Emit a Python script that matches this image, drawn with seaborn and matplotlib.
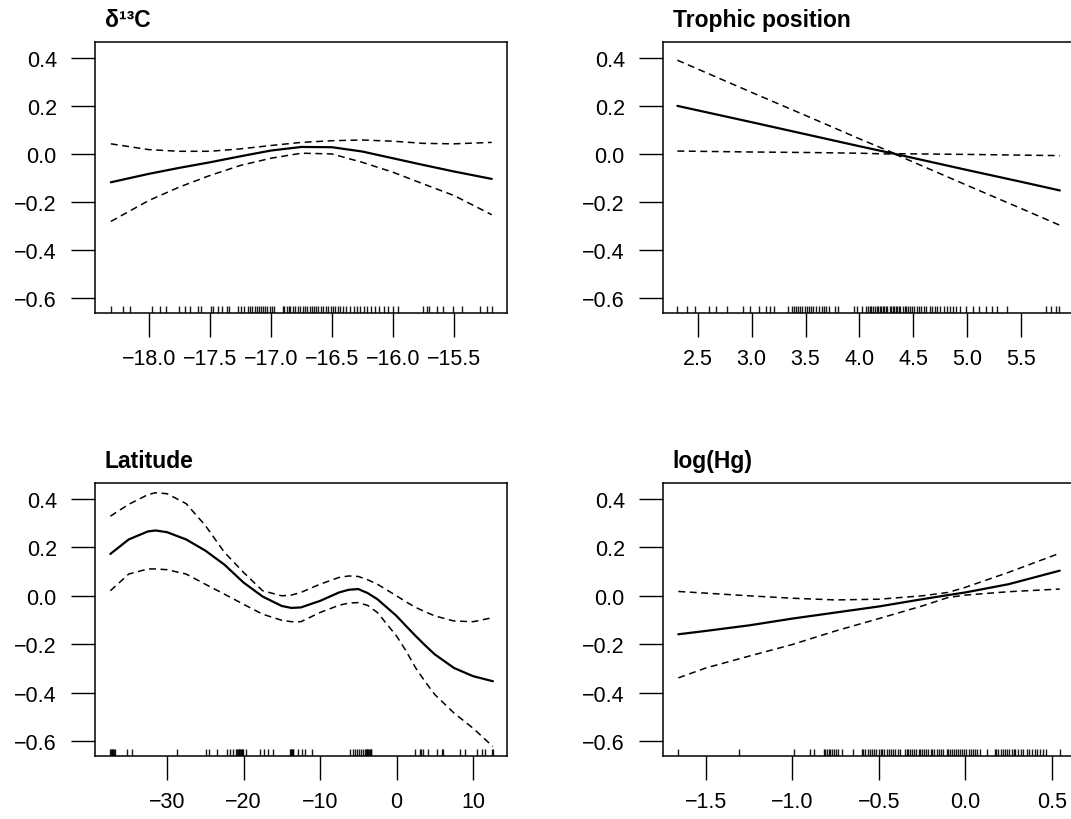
import matplotlib
matplotlib.use("Agg")
import matplotlib.pyplot as plt
import matplotlib.ticker as mticker
import seaborn as sns

# ---- delta 13C panel ----
d13c_x = [-18.31, -18.0, -17.75, -17.5, -17.25, -17.0, -16.75, -16.5, -16.25, -16.0, -15.75, -15.5, -15.19]
d13c_fit = [-0.118, -0.083, -0.058, -0.035, -0.010, 0.014, 0.029, 0.028, 0.010, -0.018, -0.046, -0.073, -0.104]
d13c_hi = [0.042, 0.018, 0.011, 0.011, 0.021, 0.035, 0.048, 0.055, 0.058, 0.053, 0.044, 0.042, 0.048]
d13c_lo = [-0.281, -0.194, -0.138, -0.090, -0.048, -0.018, 0.003, 0.000, -0.035, -0.076, -0.125, -0.173, -0.253]
d13c_rug = [-18.31, -18.21, -18.15, -17.97, -17.91, -17.86, -17.75, -17.70, -17.66, -17.60, -17.57,
            -17.49, -17.47, -17.43, -17.40, -17.36, -17.34,
            -17.27, -17.24, -17.22, -17.19, -17.17, -17.15, -17.13, -17.11, -17.10, -17.08, -17.06,
            -17.05, -17.03, -17.01, -16.99, -16.97, -16.90, -16.89, -16.87, -16.85, -16.84, -16.82,
            -16.80, -16.78, -16.76, -16.74, -16.72, -16.70, -16.68, -16.66, -16.65, -16.63, -16.61,
            -16.59, -16.57, -16.55, -16.53, -16.51, -16.49, -16.47, -16.45, -16.43, -16.41, -16.38,
            -16.35, -16.32, -16.29, -16.27, -16.24, -16.21, -16.18,
            -16.15, -16.11, -16.07, -16.04, -16.00, -15.96, -15.75, -15.72, -15.70, -15.64, -15.59,
            -15.51, -15.43, -15.29, -15.23, -15.19]

# ---- trophic position panel ----
tp_x = [2.31, 3.0, 3.5, 4.0, 4.33, 5.0, 5.5, 5.86]
tp_fit = [0.200, 0.132, 0.082, 0.032, 0.000, -0.067, -0.116, -0.152]
tp_hi = [0.390, 0.256, 0.160, 0.063, 0.001, -0.002, -0.005, -0.007]
tp_lo = [0.012, 0.008, 0.006, 0.003, -0.001, -0.131, -0.227, -0.297]
tp_rug = [2.31, 2.40, 2.47, 2.60, 2.67, 2.77, 2.92, 2.98, 3.07, 3.13, 3.17, 3.21, 3.34,
          3.37, 3.39, 3.41, 3.43, 3.45, 3.47, 3.49, 3.51, 3.53, 3.55, 3.57, 3.60, 3.62, 3.65,
          3.67, 3.69, 3.72, 3.77, 3.80, 3.95, 3.98, 4.02,
          4.06, 4.08, 4.10, 4.11, 4.13, 4.14, 4.16, 4.17, 4.19, 4.20, 4.22, 4.23, 4.25, 4.26,
          4.28, 4.29, 4.31, 4.32, 4.34, 4.35, 4.37, 4.38, 4.40, 4.42, 4.43, 4.45, 4.47, 4.49,
          4.51, 4.53, 4.55, 4.57, 4.60, 4.62, 4.65, 4.67, 4.70, 4.72, 4.75, 4.78, 4.81, 4.84,
          4.87, 4.90, 4.93, 4.99, 5.05, 5.11, 5.17, 5.23, 5.28, 5.37, 5.73, 5.78, 5.82, 5.85]

# ---- latitude panel ----
lat_x = [-37.4, -35, -32.5, -31.5, -30, -27.5, -25, -22.5, -20, -17.5, -15, -13.75, -12.5,
         -10, -7.5, -6.25, -5, -3.75, -2.5, 0, 1.25, 2.5, 3.75, 5, 7.5, 10, 12.6]
lat_fit = [0.173, 0.233, 0.266, 0.270, 0.263, 0.233, 0.187, 0.129, 0.055, -0.003, -0.042, -0.050, -0.048,
           -0.021, 0.014, 0.025, 0.028, 0.011, -0.014, -0.083, -0.125, -0.166, -0.205, -0.242,
           -0.298, -0.332, -0.353]
lat_hi = [0.329, 0.378, 0.418, 0.426, 0.422, 0.381, 0.291, 0.180, 0.097, 0.021, 0.000, 0.003, 0.014,
          0.048, 0.076, 0.082, 0.080, 0.066, 0.048, 0.000, -0.025, -0.048, -0.066, -0.083,
          -0.104, -0.107, -0.090]
lat_lo = [0.021, 0.090, 0.111, 0.111, 0.108, 0.090, 0.048, 0.007, -0.035, -0.076, -0.101, -0.107, -0.107,
          -0.069, -0.039, -0.030, -0.028, -0.040, -0.069, -0.166, -0.228, -0.298, -0.355, -0.408,
          -0.484, -0.547, -0.623]
lat_rug = [-37.45, -37.35, -37.25, -37.15, -37.05, -36.95, -36.85, -35.19, -34.61, -28.73,
           -24.90, -24.47, -23.42, -22.20, -21.76, -21.41, -20.95, -20.85, -20.75, -20.65,
           -20.55, -20.45, -20.35, -20.25, -20.15, -20.05, -19.67, -17.84, -17.32, -16.76,
           -16.10, -13.92, -13.85, -13.75, -13.65, -13.55, -13.49, -12.84, -12.39, -11.96,
           -11.09, -6.08, -5.75, -5.45, -5.20, -4.90, -4.60, -4.35, -4.10, -4.00, -3.90,
           -3.80, -3.70, -3.60, -3.50, -3.40, -3.30, 2.42, 3.07, 3.25, 3.50, 4.16, 5.25,
           5.91, 6.12, 8.30, 8.95, 10.48, 11.14, 11.57, 12.44, 12.60]

# ---- log(Hg) panel ----
hg_x = [-1.66, -1.5, -1.25, -1.0, -0.75, -0.5, -0.25, -0.1, 0.0, 0.25, 0.546]
hg_fit = [-0.159, -0.145, -0.122, -0.094, -0.069, -0.044, -0.014, 0.003, 0.014, 0.048, 0.104]
hg_hi = [0.018, 0.011, 0.000, -0.010, -0.017, -0.014, 0.000, 0.014, 0.035, 0.097, 0.176]
hg_lo = [-0.339, -0.298, -0.249, -0.201, -0.145, -0.094, -0.042, -0.007, 0.003, 0.017, 0.028]
hg_rug = [-1.66, -1.31, -0.99, -0.90, -0.876,
          -0.818, -0.81, -0.80, -0.79, -0.78, -0.77, -0.76, -0.75, -0.735, -0.716, -0.649,
          -0.60, -0.59, -0.58, -0.565, -0.55, -0.54, -0.53, -0.515, -0.50, -0.49, -0.48,
          -0.47, -0.455, -0.44, -0.43, -0.42, -0.405, -0.39, -0.38,
          -0.35, -0.34, -0.33, -0.32, -0.31, -0.295, -0.285, -0.27, -0.26, -0.25, -0.24,
          -0.225, -0.215, -0.20, -0.19, -0.18, -0.165, -0.155, -0.14, -0.128,
          -0.109, -0.10, -0.09, -0.08, -0.065, -0.055, -0.04, -0.03, -0.02, -0.005, 0.005,
          0.02, 0.03, 0.045, 0.055, 0.07, 0.084,
          0.123, 0.171, 0.18, 0.19, 0.205, 0.215, 0.23, 0.24, 0.255, 0.27, 0.28, 0.29,
          0.305, 0.32, 0.334, 0.354, 0.37, 0.385, 0.40, 0.415, 0.43, 0.45, 0.469, 0.546]

titles = ["\u03b4\u00b9\u00b3C", "Trophic position", "Latitude", "log(Hg)"]
y_ticks = [-0.6, -0.4, -0.2, 0.0, 0.2, 0.4]

sns.set_style("ticks")
plt.rcParams["font.family"] = ["Liberation Sans", "DejaVu Sans"]
plt.rcParams["axes.unicode_minus"] = True
plt.rcParams["text.color"] = "black"
plt.rcParams["xtick.color"] = "black"
plt.rcParams["ytick.color"] = "black"
plt.rcParams["xtick.labelcolor"] = "black"
plt.rcParams["ytick.labelcolor"] = "black"

fig = plt.figure(figsize=(10.71, 8.2), dpi=100)

panels = [
    dict(pos=[0.0887, 0.6171, 0.3847, 0.3305], x=d13c_x, fit=d13c_fit, hi=d13c_hi, lo=d13c_lo,
         rug=d13c_rug, xlim=(-18.44, -15.065), xt=[-18.0, -17.5, -17.0, -16.5, -16.0, -15.5], fmt="%.1f"),
    dict(pos=[0.6190, 0.6171, 0.3847, 0.3305], x=tp_x, fit=tp_fit, hi=tp_hi, lo=tp_lo,
         rug=tp_rug, xlim=(2.176, 6.0), xt=[2.5, 3.0, 3.5, 4.0, 4.5, 5.0, 5.5], fmt="%.1f"),
    dict(pos=[0.0887, 0.0768, 0.3847, 0.3329], x=lat_x, fit=lat_fit, hi=lat_hi, lo=lat_lo,
         rug=lat_rug, xlim=(-39.41, 14.44), xt=[-30, -20, -10, 0, 10], fmt="%d"),
    dict(pos=[0.6190, 0.0768, 0.3847, 0.3329], x=hg_x, fit=hg_fit, hi=hg_hi, lo=hg_lo,
         rug=hg_rug, xlim=(-1.749, 0.634), xt=[-1.5, -1.0, -0.5, 0.0, 0.5], fmt="%.1f"),
]


def minus_fmt(fmt):
    return mticker.FuncFormatter(lambda v, p: (fmt % v).replace("-", "\u2212"))


for title, p in zip(titles, panels):
    ax = fig.add_axes(p["pos"])
    sns.lineplot(x=p["x"], y=p["fit"], ax=ax, color="black", lw=1.6)
    sns.lineplot(x=p["x"], y=p["hi"], ax=ax, color="black", lw=1.1, linestyle=(0, (4.5, 3)))
    sns.lineplot(x=p["x"], y=p["lo"], ax=ax, color="black", lw=1.1, linestyle=(0, (4.5, 3)))
    sns.rugplot(x=p["rug"], ax=ax, height=0.026, color="black", lw=0.6, alpha=0.9)

    ax.set_xlim(*p["xlim"])
    ax.set_ylim(-0.662, 0.466)
    ax.set_xticks(p["xt"])
    ax.set_yticks(y_ticks)
    ax.xaxis.set_major_formatter(minus_fmt(p["fmt"]))
    ax.yaxis.set_major_formatter(minus_fmt("%.1f"))
    ax.tick_params(direction="out", length=17.5, width=1.0, labelsize=15.5, color="black",
                   labelcolor="black")
    ax.tick_params(axis="x", pad=8)
    ax.tick_params(axis="y", pad=10)
    for s in ax.spines.values():
        s.set_visible(True)
        s.set_linewidth(1.1)
        s.set_color("black")
    ax.set_xlabel("")
    ax.set_ylabel("")
    ax.text(0.024, 1.059, title, transform=ax.transAxes, fontsize=16.5, color="black",
            fontweight="bold", ha="left", va="baseline")

fig.savefig("out.png", dpi=100)
